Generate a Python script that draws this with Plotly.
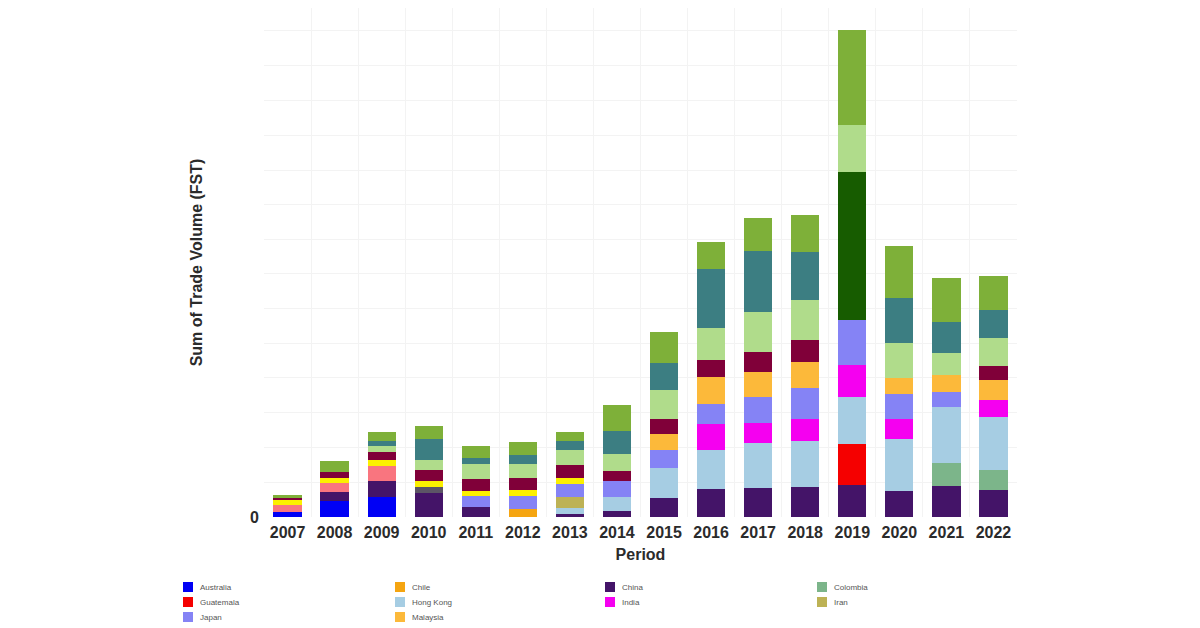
import plotly.graph_objects as go

# no scale on the y axis so units are just relative height
periods = ["2007", "2008", "2009", "2010", "2011", "2012", "2013", "2014",
           "2015", "2016", "2017", "2018", "2019", "2020", "2021", "2022"]

australia = [4.7, 16, 20, 0, 0, 0, 0, 0, 0, 0, 0, 0, 0, 0, 0, 0]
chile = [0, 0, 0, 0, 0, 8, 0, 0, 0, 0, 0, 0, 0, 0, 0, 0]
china = [0, 9, 16, 24, 10, 0, 3.5, 6, 19, 28, 29, 30, 32, 26, 31, 27]
colombia = [0, 0, 0, 0, 0, 0, 0, 0, 0, 0, 0, 0, 0, 0, 23, 20]
guatemala = [0, 0, 0, 0, 0, 0, 0, 0, 0, 0, 0, 0, 41, 0, 0, 0]
hong_kong = [0, 0, 0, 0, 0, 0, 6, 14, 30, 39, 45, 46, 47, 52, 56, 53]
india = [0, 0, 0, 0, 0, 0, 0, 0, 0, 26, 20, 22, 32, 20, 0, 17]
iran = [0, 0, 0, 0, 0, 0, 11, 0, 0, 0, 0, 0, 0, 0, 0, 0]
japan = [0, 0, 0, 0, 11, 13, 13, 16, 18, 20, 26, 31, 45, 25, 15, 0]
malaysia = [0, 0, 0, 0, 0, 0, 0, 0, 16, 27, 25, 26, 0, 16, 17, 20]
# these ones have no legend entry in the picture
grey = [0, 0, 0, 6.5, 0, 0, 0, 0, 0, 0, 0, 0, 0, 0, 0, 0]
salmon = [7, 9.5, 15, 0, 0, 0, 0, 0, 0, 0, 0, 0, 0, 0, 0, 0]
yellow = [5, 5, 6, 6, 5, 6, 6, 0, 0, 0, 0, 0, 0, 0, 0, 0]
maroon = [2, 6, 8, 11, 12, 12, 13, 10, 15, 17, 20, 22, 0, 0, 0, 14]
dark_green = [0, 0, 0, 0, 0, 0, 0, 0, 0, 0, 0, 0, 148, 0, 0, 0]
light_green = [0, 0, 6, 10, 15, 14, 15, 17, 29, 32, 40, 40, 47, 35, 22, 28]
teal = [0, 0, 5, 21, 6, 9, 9, 23, 27, 59, 61, 48, 0, 45, 31, 28]
green = [3, 10.5, 9, 13, 12, 13, 9, 26, 31, 27, 33, 37, 95, 52, 44, 34]

# stack order, bottom to top
series = [
    ("Australia", australia, "#0000f5", True),
    ("Chile", chile, "#f5a511", True),
    ("China", china, "#441468", True),
    ("Colombia", colombia, "#7cb58a", True),
    ("Guatemala", guatemala, "#f50000", True),
    ("Hong Kong", hong_kong, "#a6cde3", True),
    ("India", india, "#f500f0", True),
    ("Iran", iran, "#bdb255", True),
    ("Japan", japan, "#8583f5", True),
    ("Malaysia", malaysia, "#fcb93a", True),
    ("Other 1", grey, "#5c5566", False),
    ("Other 2", salmon, "#f9757f", False),
    ("Other 3", yellow, "#fcf000", False),
    ("Other 4", maroon, "#800039", False),
    ("Other 5", dark_green, "#175c00", False),
    ("Other 6", light_green, "#b0dc8b", False),
    ("Other 7", teal, "#3c7e82", False),
    ("Other 8", green, "#7eb039", False),
]

fig = go.Figure()
for name, vals, col, in_legend in series:
    fig.add_trace(go.Bar(x=periods, y=vals, name=name, marker_color=col,
                         marker_line_width=0, showlegend=False))

fig.update_layout(
    barmode="stack",
    bargap=0.4,
    width=1200,
    height=628,
    margin=dict(l=264, r=183, t=8, b=111),
    plot_bgcolor="white",
    paper_bgcolor="white",
    font=dict(family="Liberation Sans, Arial, sans-serif", color="#2b2b2b"),
)
fig.update_xaxes(
    type="category",
    tickson="boundaries",
    ticks="",
    ticklabelstandoff=4,
    showgrid=True,
    gridcolor="#f3f3f3",
    gridwidth=1,
    tickfont=dict(size=16, weight="bold"),
    title=dict(text="<b>Period</b>", font=dict(size=16), standoff=8),
    zeroline=False,
)
fig.update_yaxes(
    range=[0, 509],
    tickmode="array",
    tickvals=[0, 35, 70, 105, 140, 174, 209, 244, 278, 313, 347, 382, 417, 452, 487],
    ticktext=["<b>0</b>"] + [""] * 14,
    ticks="outside",
    ticklen=1,
    tickcolor="white",
    tickfont=dict(size=16),
    showgrid=True,
    gridcolor="#f3f3f3",
    gridwidth=1,
    zeroline=False,
    title=dict(text="<b>Sum of Trade Volume (FST)</b>", font=dict(size=16), standoff=43),
)

# legend rows are tighter than the native legend allows, so build it by hand
legend_x = [183, 395, 605, 817]
legend_y = [587, 602, 617]
entries = [s for s in series if s[3]]
for i, (name, vals, col, in_legend) in enumerate(entries):
    x0 = legend_x[i % 4]
    y0 = legend_y[i // 4]
    fig.add_shape(type="rect", xref="paper", yref="paper",
                  x0=(x0 - 264) / 753, x1=(x0 + 10 - 264) / 753,
                  y0=(517 - y0 - 5) / 509, y1=(517 - y0 + 5) / 509,
                  fillcolor=col, line_width=0)
    fig.add_annotation(text=name, xref="paper", yref="paper",
                       x=(x0 + 15 - 264) / 753, y=(517 - y0) / 509,
                       xanchor="left", yanchor="middle", showarrow=False,
                       font=dict(size=8, color="#555555"))

# drop the default body margin so the figure sits at the page corner
fig.write_html("out.html", config={"displayModeBar": False},
               post_script="document.body.style.margin='0';")
